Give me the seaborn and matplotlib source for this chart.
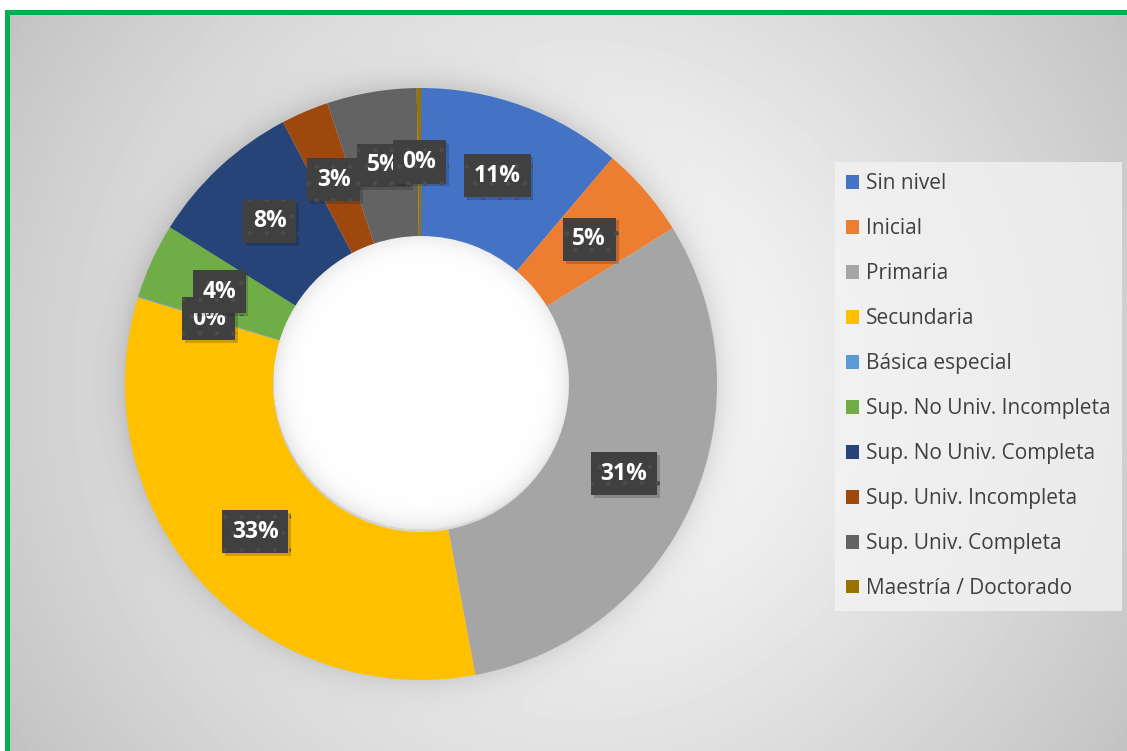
import numpy as np
import matplotlib
matplotlib.use("Agg")
import matplotlib.pyplot as plt
import matplotlib.patheffects as pe
from matplotlib.patches import Patch, Rectangle
import seaborn as sns

# Data (percent of total)
categories = ["Sin nivel", "Inicial", "Primaria", "Secundaria", "Básica especial",
              "Sup. No Univ. Incompleta", "Sup. No Univ. Completa",
              "Sup. Univ. Incompleta", "Sup. Univ. Completa", "Maestría / Doctorado"]
values = [11.2, 5.0, 30.9, 32.7, 0.05, 4.1, 8.4, 2.6, 4.9, 0.23]
colors = ["#4472C4", "#ED7D31", "#A5A5A5", "#FFC000", "#5B9BD5",
          "#70AD47", "#264478", "#9E480E", "#636363", "#997300"]

sns.set_theme(style="white")
plt.rcParams["font.family"] = ["Open Sans", "DejaVu Sans"]
plt.rcParams["hatch.linewidth"] = 0.8

W, H = 1127, 751
cx, cy, r = 421, 384, 296   # donut centre / radius in pixels

fig = plt.figure(figsize=(W / 100, H / 100), dpi=100)
fig.patch.set_facecolor("white")

# background: soft radial gradient inside the green frame, with ring shadow and hole
bg = fig.add_axes([10 / W, 0, 1 - 10 / W, 1 - 15 / H], zorder=-10)
yy, xx = np.mgrid[0:H - 15, 0:W - 10]
d = np.hypot(xx - 560, yy - 365) / 700.0
shade = 1 - 0.25 * np.clip(d, 0, 1) ** 1.2
dr = np.hypot(xx - (cx - 10), yy - (cy - 15 - 3))
shade -= 0.10 * np.exp(-np.clip(dr - r, 0, None) / 14.0)
hole = dr < r / 2
shade[hole] = 1 - 0.10 * np.exp(-(r / 2 - dr[hole]) / 10.0)
bg.imshow(shade, cmap="gray", vmin=0, vmax=1, aspect="auto", interpolation="bilinear")
bg.axis("off")

# green frame (top and left)
fig.patches.append(Rectangle((5 / W, 1 - 15 / H), 1 - 5 / W, 5 / H, transform=fig.transFigure,
                             facecolor="#00B050", edgecolor="none", zorder=5))
fig.patches.append(Rectangle((5 / W, 0), 5 / W, 1 - 10 / H, transform=fig.transFigure,
                             facecolor="#00B050", edgecolor="none", zorder=5))

# donut
ax = fig.add_axes([(cx - r) / W, (H - cy - r) / H, 2 * r / W, 2 * r / H])
ax.set_facecolor("none")
wedges, _ = ax.pie(values, colors=colors, startangle=90, counterclock=False, radius=1,
                   wedgeprops=dict(width=0.5, linewidth=0))
ax.set_xlim(-1, 1)
ax.set_ylim(-1, 1)
ax.set_aspect("equal")
ax.axis("off")

# data labels at mid-ring
total = sum(values)
for w, v in zip(wedges, values):
    ang = np.deg2rad((w.theta1 + w.theta2) / 2)
    x, y = 0.75 * np.cos(ang), 0.75 * np.sin(ang)
    pct = int(v / total * 100 + 0.5)
    t = ax.text(x, y, f"{pct}%", ha="center", va="center",
                fontsize=16.5, fontweight="bold", color="white", zorder=10,
                bbox=dict(boxstyle="square,pad=0.42", facecolor="#404040",
                          edgecolor="#4c4c4c", linewidth=0, hatch="."))
    t.get_bbox_patch().set_path_effects([pe.SimplePatchShadow(offset=(2, -2), alpha=0.2),
                                         pe.Normal()])

# legend
handles = [Patch(facecolor=c, edgecolor="none") for c in colors]
leg = fig.legend(handles, categories, loc="upper left",
                 bbox_to_anchor=(835 / W, 1 - 162 / H), frameon=True,
                 fontsize=15, labelspacing=1.15, handlelength=0.62, handleheight=0.62,
                 handletextpad=0.3, borderpad=0.55, borderaxespad=0)
leg.get_frame().set_facecolor("#f4f4f4")
leg.get_frame().set_alpha(0.75)
leg.get_frame().set_edgecolor("none")
leg.get_frame().set_boxstyle("square", pad=0)
for txt in leg.get_texts():
    txt.set_color("#404040")

fig.savefig("out.png", dpi=100)
